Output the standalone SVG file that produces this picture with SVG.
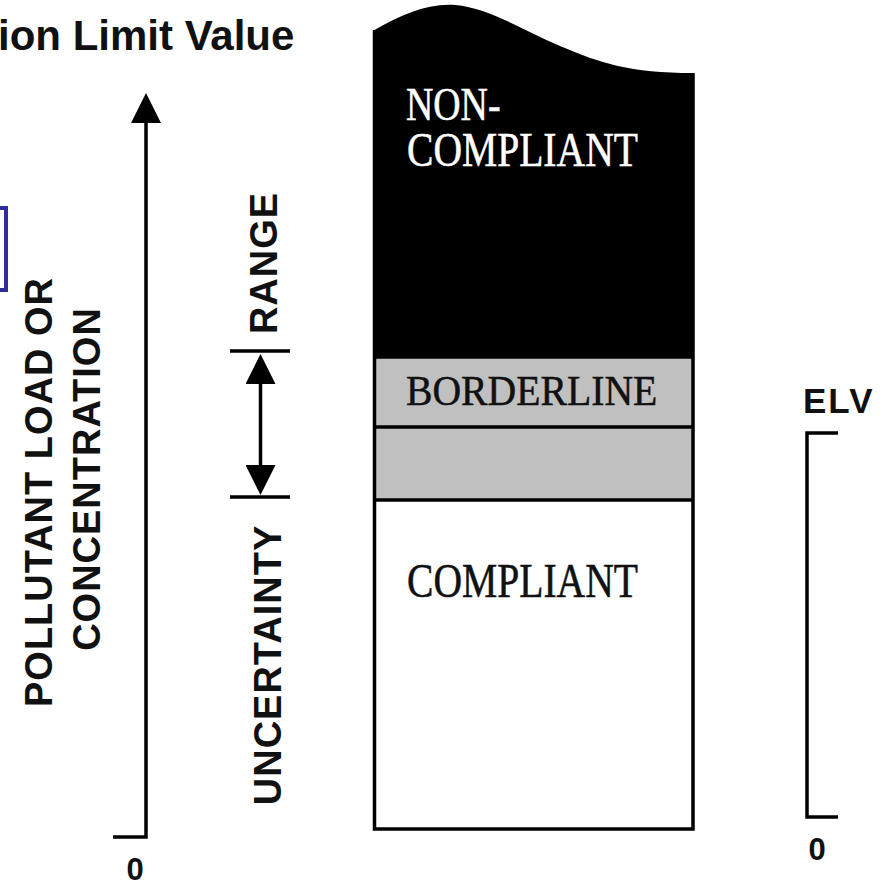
<svg xmlns="http://www.w3.org/2000/svg" width="893" height="887" viewBox="0 0 893 887">
<style>
.sans{font-family:"Liberation Sans",Arial,sans-serif;font-weight:bold;fill:#111}
.serif{font-family:"Liberation Serif","Times New Roman",serif}
.ln{stroke:#000;stroke-width:3.5;fill:none}
.vlab{font-size:38px;letter-spacing:1px;text-anchor:middle}
</style>
<defs>
<marker id="head" markerUnits="userSpaceOnUse" markerWidth="30" markerHeight="30" viewBox="0 0 30 30" refX="24" refY="15" orient="auto-start-reverse">
<path d="M0,0 L30,15 L0,30 Z" fill="#000"/>
</marker>
</defs>
<rect width="893" height="887" fill="#fff"/>

<g id="title"><text class="sans" x="-2" y="50" font-size="42" fill="#000">ion Limit Value</text></g>

<g id="bluebox"><rect x="-12" y="208" width="18" height="82" fill="#fff" stroke="#2E2E96" stroke-width="4"/></g>

<g id="axis-label">
<text class="sans vlab" transform="translate(52,492) rotate(-90)">POLLUTANT LOAD OR</text>
<text class="sans vlab" transform="translate(100,479) rotate(-90)">CONCENTRATION</text>
</g>

<g id="range-label">
<text class="sans vlab" transform="translate(277,263) rotate(-90)">RANGE</text>
<text class="sans vlab" transform="translate(281,665) rotate(-90)">UNCERTAINTY</text>
</g>

<g id="bar">
<path d="M374.5,30 C400,15 428,3 455,5 C490,8 522,30 560,46 C600,63 630,73 693,73 L693,357 L374.5,357 Z" fill="#000"/>
<rect id="borderline" x="374.5" y="357" width="318.5" height="70" fill="#C0C0C0"/>
<rect id="borderline2" x="374.5" y="427" width="318.5" height="73" fill="#C0C0C0"/>
<rect id="compliant" x="374.5" y="500" width="318.5" height="329" fill="#fff"/>
<path class="ln" d="M374.5,30 L374.5,829 L693,829 L693,73"/>
<line class="ln" x1="374.5" y1="357" x2="693" y2="357" stroke-width="2"/>
<line class="ln" x1="374.5" y1="427" x2="693" y2="427" stroke-width="3"/>
<line class="ln" x1="374.5" y1="500" x2="693" y2="500" stroke-width="3"/>
<text class="serif" fill="#fff" stroke="#fff" stroke-width="0.5" font-size="42" transform="translate(406,120) scale(0.9,1.08)">NON-</text>
<text class="serif" fill="#fff" stroke="#fff" stroke-width="0.5" font-size="44" transform="translate(407,166) scale(0.9,1.08)">COMPLIANT</text>
<text class="serif" fill="#111" stroke="#111" stroke-width="0.5" font-size="42" transform="translate(406,405) scale(0.945,1.02)">BORDERLINE</text>
<text class="serif" fill="#111" stroke="#111" stroke-width="0.5" font-size="44" transform="translate(407,597) scale(0.9,1.1)">COMPLIANT</text>
</g>

<g id="elv">
<text class="sans" x="803" y="413" font-size="35" letter-spacing="2">ELV</text>
<path class="ln" d="M838,433 L807,433 L807,817 L838,817"/>
<text class="sans" x="817" y="860" font-size="31" text-anchor="middle">0</text>
</g>

<g id="zero-left"><text class="sans" x="135" y="880" font-size="31" text-anchor="middle">0</text></g>

<g id="connectors">
<path class="ln" d="M113,837 L146,837 L146,99" marker-end="url(#head)"/>
<line class="ln" x1="230" y1="351" x2="290" y2="351" stroke-width="3"/>
<line class="ln" x1="230" y1="497" x2="290" y2="497" stroke-width="3"/>
<line class="ln" x1="260.5" y1="360" x2="260.5" y2="489" stroke-width="3" marker-start="url(#head)" marker-end="url(#head)"/>
</g>
</svg>
